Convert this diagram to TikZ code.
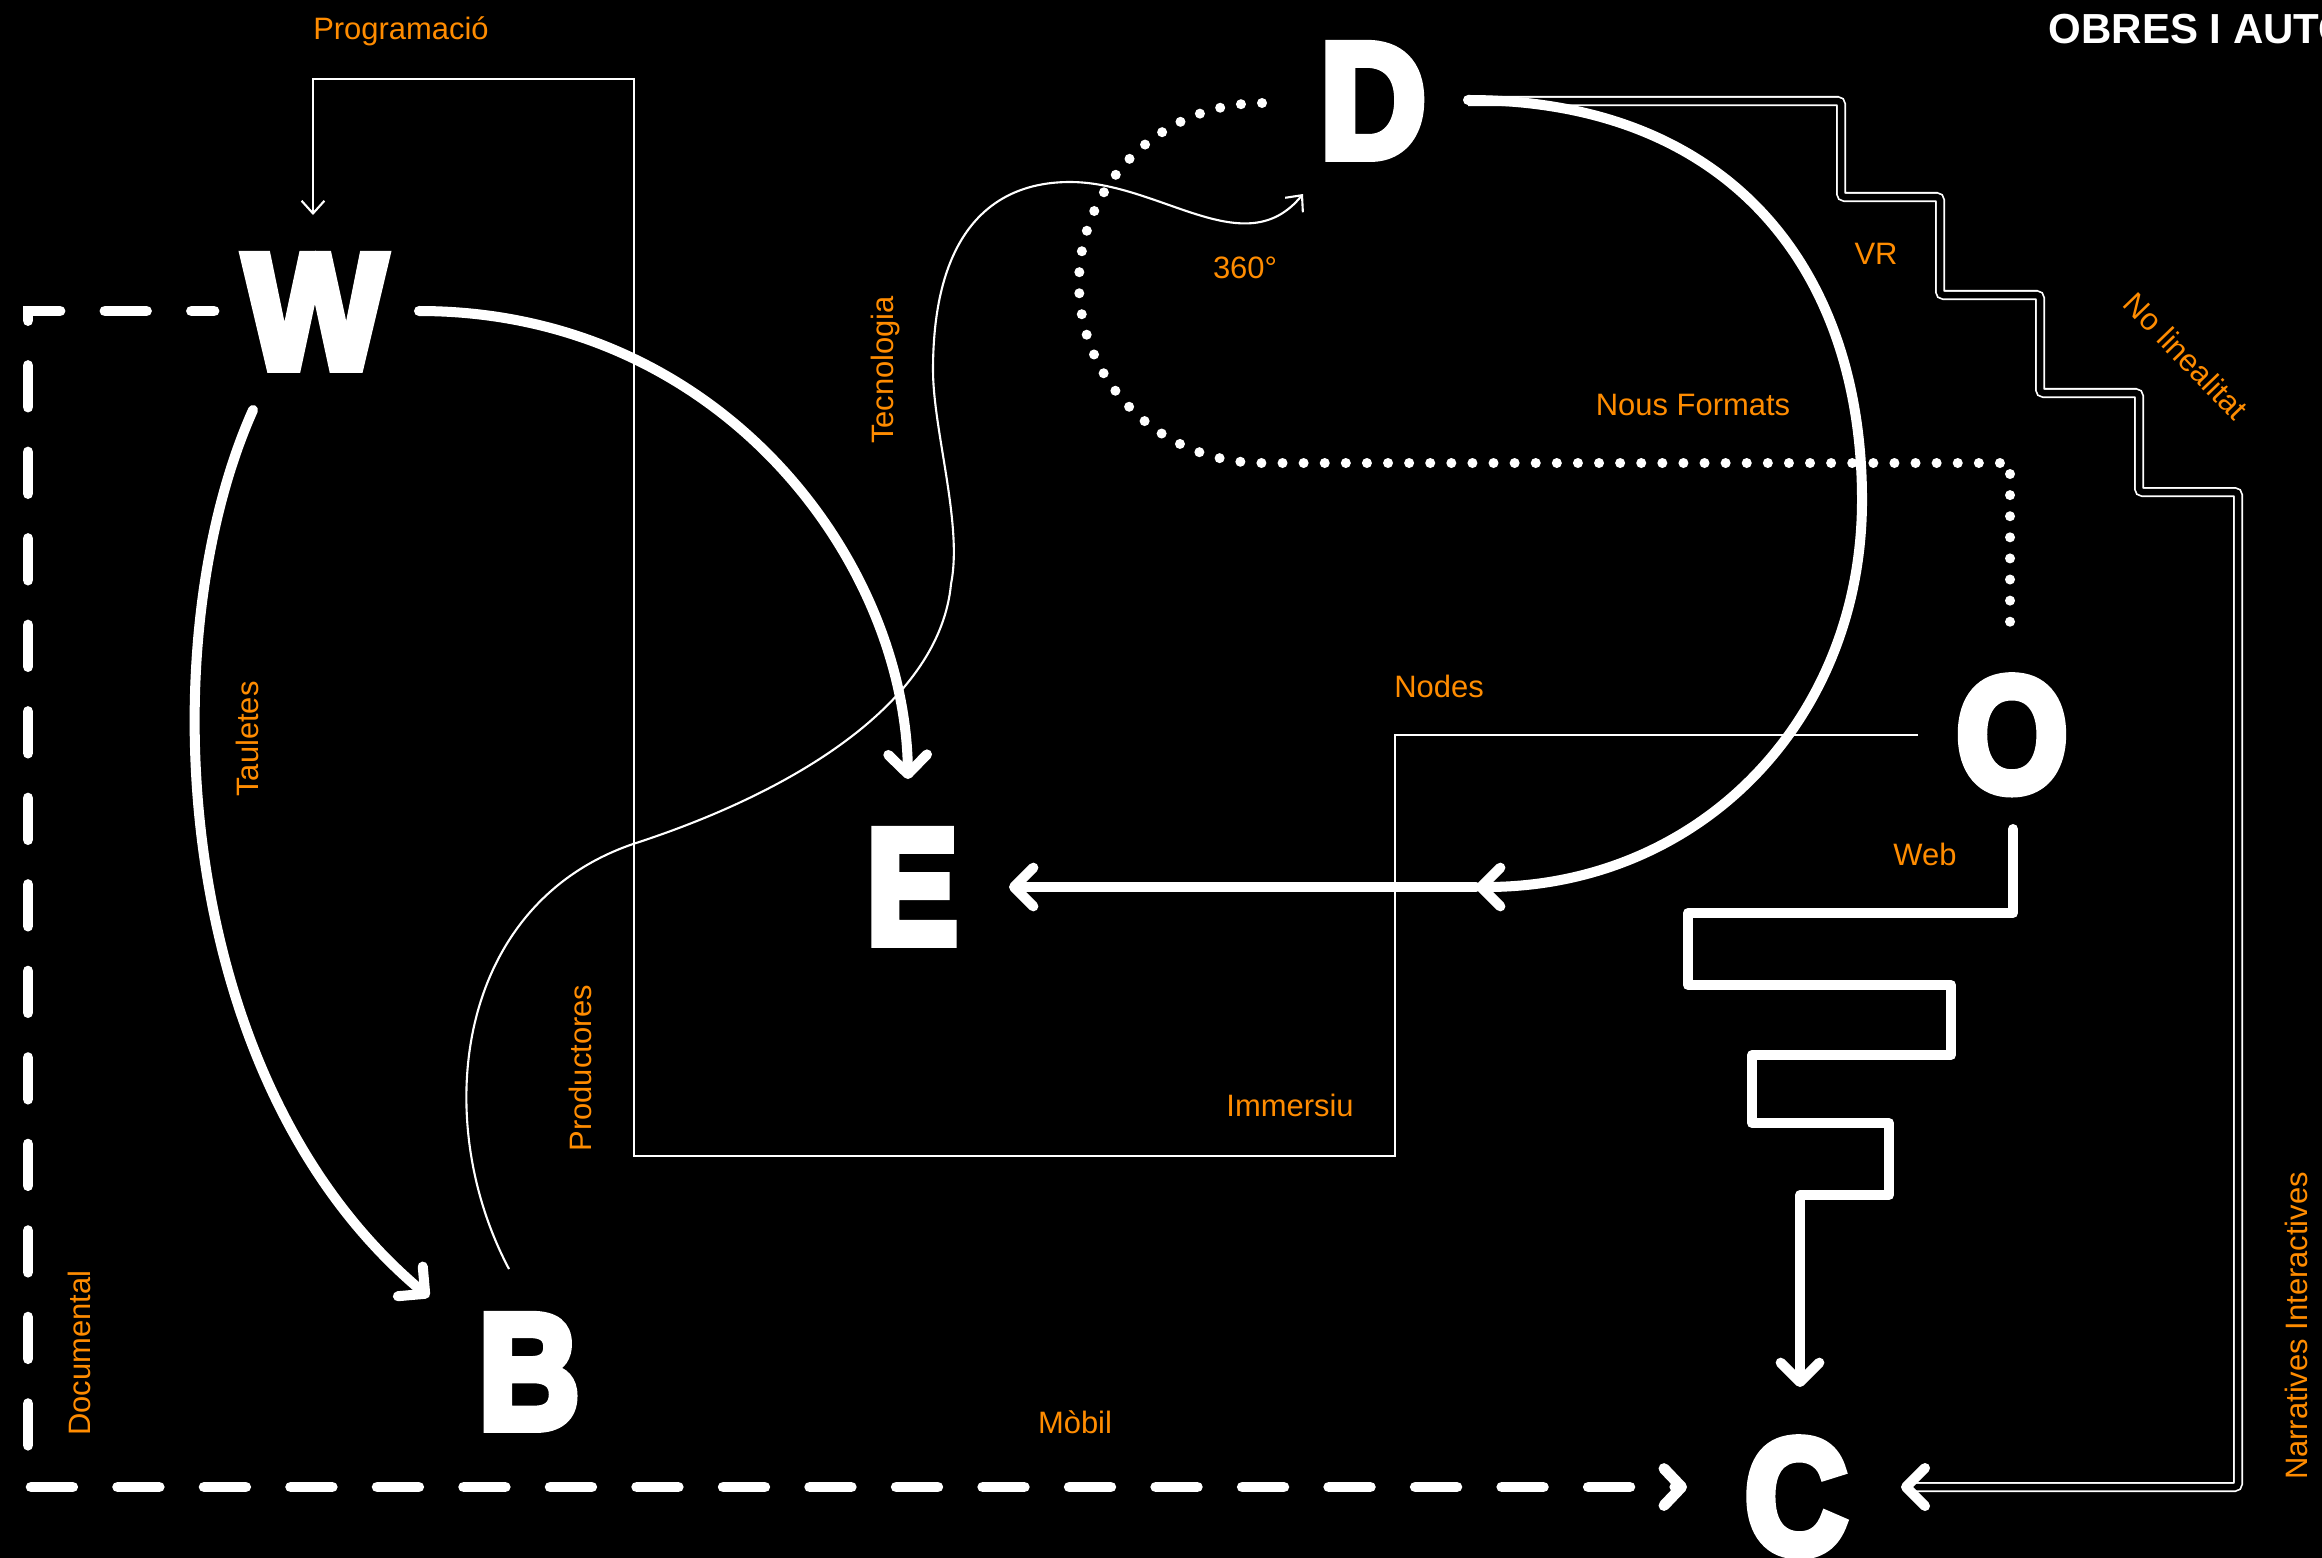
\documentclass[tikz,border=0pt]{standalone}
\usepackage{fontspec}
\setmainfont{Liberation Sans}
\newfontfamily\labelfont{Liberation Sans}
\newfontfamily\heavyfont{Liberation Sans}[BoldFeatures={FakeBold=6}]
\usetikzlibrary{arrows.meta,calc}
\definecolor{lab}{RGB}{255,140,0}
\begin{document}
\begin{tikzpicture}[x=0.01cm, y=-0.01cm,
  thickline/.style={draw=white, line width=2.85pt, line cap=round, line join=round},
  thinline/.style={draw=white, line width=0.6pt},
  bigtip/.style={-{Straight Barb[length=5.5pt,width=11pt,round]}},
  smalltip/.style={-{Straight Barb[length=3.6pt,width=6.5pt]}},
  dotline/.style={draw=white, line width=2.85pt, line cap=round, dash pattern=on 0pt off 6pt},
  dashline/.style={draw=white, line width=3.1pt, line cap=round, dash pattern=on 11.8pt off 12.8pt},
  dbl/.style={draw=white, line width=0.5pt, double=black, double distance=1.85pt, rounded corners=1pt},
  letter/.style={text=white, inner sep=0pt, font=\heavyfont\bfseries\fontsize{46.4}{46.4}\selectfont, anchor=base},
  lbl/.style={text=lab, inner sep=0pt, font=\labelfont\fontsize{8.8}{8.8}\selectfont},
]
\useasboundingbox (0,0) rectangle (2322,1557);
\fill[black] (-20,-20) rectangle (2342,1577);

% letters
\node[letter, xscale=0.92] (W) at (315,368) {W};
\node[letter, xscale=0.9] (D) at (1373,157) {D};
\node[letter, xscale=0.84] (E) at (912,943) {E};
\node[letter, xscale=0.86] (B) at (529,1428) {B};
\node[letter, xscale=0.88] (O) at (2012,791) {O};
\node[letter, xscale=0.87] (C) at (1796,1553) {C};

% connector end points
\coordinate (we0) at ($(W.base)+(104,-57)$);
\coordinate (we1) at ($(E.base)+(-4,-164)$);
\coordinate (wb0) at ($(W.base)+(-62,42)$);
\coordinate (wb1) at ($(B.base)+(-100,-131)$);
\coordinate (de0) at ($(D.base)+(95,-57)$);
\coordinate (dem) at (1476,887);
\coordinate (de1) at ($(E.base)+(97,-56)$);
\coordinate (do0) at ($(D.base)+(-111,-54)$);
\coordinate (do1) at ($(O.base)+(-2,-157)$);
\coordinate (oc0) at ($(O.base)+(1,38)$);
\coordinate (oc1) at ($(C.base)+(4,-166)$);
\coordinate (ow0) at ($(O.base)+(-94,-56)$);
\coordinate (ow1) at ($(W.base)+(-2,-153)$);
\coordinate (bd0) at ($(B.base)+(-20,-159)$);
\coordinate (bd1) at ($(D.base)+(-70,37)$);
\coordinate (dc0) at ($(D.base)+(95,-56)$);
\coordinate (dc1) at ($(C.base)+(110,-66)$);
\coordinate (wc0) at ($(W.base)+(-101,-57)$);
\coordinate (wc1) at ($(C.base)+(-109,-66)$);

% D -> C double stepped line
\draw[dbl] (dc0) -- (1841,101) -- (1841,197) -- (1940,197) -- (1940,295) -- (2040,295) -- (2040,393) -- (2139,393) -- (2139,492) -- (2238,492) -- (2238,1487) -- ($(dc1)+(6,0)$);
\draw[thickline] ($(dc1)+(19,-19)$) -- (dc1) -- ($(dc1)+(19,19)$);

% O -> W thin line (Nodes / Immersiu / Programacio)
\draw[thinline,smalltip] (ow0) -- (1395,735) -- (1395,1156) -- (634,1156) -- (634,79) -- (313,79) -- (ow1);

% B -> D thin curve (Productores / Tecnologia / 360)
\draw[thinline,smalltip] (bd0) .. controls (430,1120) and (455,905) .. (633,844)
  .. controls (800,790) and (940,700) .. (951,584)
  .. controls (963,525) and (933,430) .. (933,370)
  .. controls (933,235) and (990,182) .. (1070,182)
  .. controls (1160,182) and (1245,265) .. (bd1);

% D -> O dotted
\draw[dotline] (do0) arc[start angle=-90,end angle=-270,x radius=183,y radius=180] -- (2010,463) -- (do1);

% W -> C dashed
\draw[dashline, dash phase=5.4pt, -{Straight Barb[length=5pt,width=10.5pt,round]}] (wc0) -- (28,311) -- (28,1487) -- (wc1);

% thick connectors
\draw[thickline,bigtip] (we0) .. controls (720,311) and (905,560) .. (we1);
\draw[thickline,bigtip] (wb0) .. controls (150,640) and (170,1080) .. (wb1);
\draw[thickline,bigtip] (de0) .. controls (1730,100) and (1862,270) .. (1862,500) .. controls (1862,720) and (1700,887) .. (dem);
\draw[thickline,bigtip] (dem) -- (de1);
\draw[thickline,bigtip] (oc0) -- (2013,913) -- (1688,913) -- (1688,985) -- (1951,985) -- (1951,1055) -- (1752,1055) -- (1752,1123) -- (1889,1123) -- (1889,1195) -- (1800,1195) -- (oc1);

% labels
\node[lbl] (lprog) at (401,31) {Programació};
\node[lbl, rotate=90] (ltau) at (247,739) {Tauletes};
\node[lbl, rotate=90] (ltec) at (885,370) {Tecnologia};
\node[lbl] (l360) at (1245,268) {360°};
\node[lbl] (lvr) at (1876,254) {VR};
\node[lbl, rotate=-46] (lnolin) at (2186,356) {No linealitat};
\node[lbl] (lnous) at (1693,405) {Nous Formats};
\node[lbl] (lnodes) at (1439,686) {Nodes};
\node[lbl] (lweb) at (1925,854) {Web};
\node[lbl] (limm) at (1290,1105) {Immersiu};
\node[lbl, rotate=90] (lprod) at (580,1068) {Productores};
\node[lbl, rotate=90] (ldoc) at (79,1353) {Documental};
\node[lbl] (lmob) at (1075,1422) {Mòbil};
\node[lbl, rotate=90] (lnarr) at (2296,1326) {Narratives Interactives};
\node[text=white, inner sep=0pt, anchor=base west, font=\labelfont\bfseries\fontsize{11.95}{12}\selectfont] (title) at (2048,43) {OBRES I AUTO};
\end{tikzpicture}
\end{document}
